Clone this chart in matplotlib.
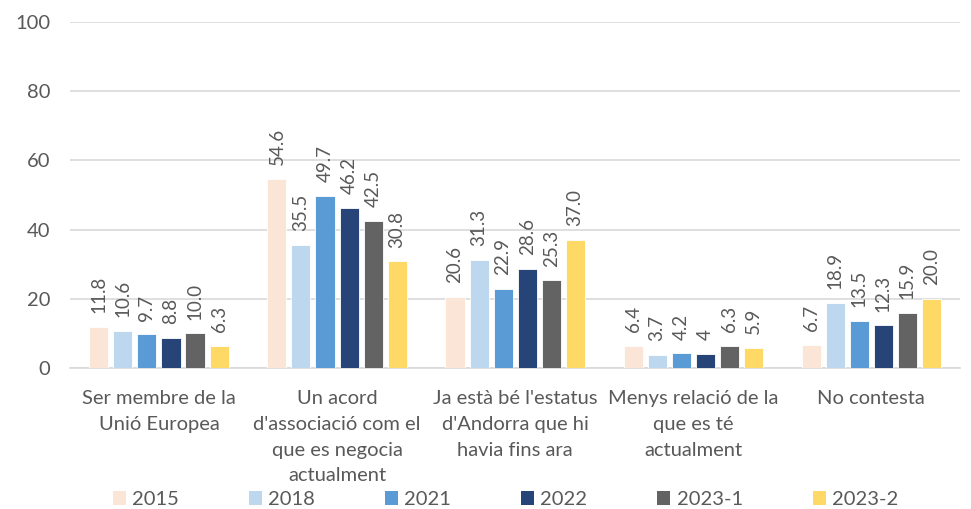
import matplotlib
matplotlib.use("Agg")
import matplotlib.pyplot as plt
import numpy as np
from matplotlib.patches import Patch

plt.rcParams['font.family'] = ['Lato', 'DejaVu Sans']

categories = [
    "Ser membre de la\nUnió Europea",
    "Un acord\nd'associació com el\nque es negocia\nactualment",
    "Ja està bé l'estatus\nd'Andorra que hi\nhavia fins ara",
    "Menys relació de la\nque es té\nactualment",
    "No contesta",
]
series_names = ["2015", "2018", "2021", "2022", "2023-1", "2023-2"]
v2015 = [11.8, 54.6, 20.6, 6.4, 6.7]
v2018 = [10.6, 35.5, 31.3, 3.7, 18.9]
v2021 = [9.7, 49.7, 22.9, 4.2, 13.5]
v2022 = [8.8, 46.2, 28.6, 4.0, 12.3]
v2023_1 = [10.0, 42.5, 25.3, 6.3, 15.9]
v2023_2 = [6.3, 30.8, 37.0, 5.9, 20.0]
labels_2022 = ["8.8", "46.2", "28.6", "4", "12.3"]
y_ticks = [0, 20, 40, 60, 80, 100]

colors = ["#FBE5D6", "#BDD7EE", "#5B9BD5", "#264478", "#636363", "#FFD966"]
text_color = "#595959"

all_values = [v2015, v2018, v2021, v2022, v2023_1, v2023_2]

fig = plt.figure(figsize=(9.71, 5.09), dpi=100)
ax = fig.add_axes([0.072, 0.277, 0.917, 0.680])

x = np.arange(len(categories))
slot = 0.135
bar_w = 0.107
n = len(series_names)
for i, (vals, col) in enumerate(zip(all_values, colors)):
    pos = x + (i - (n - 1) / 2) * slot
    ax.bar(pos, vals, width=bar_w, color=col, edgecolor="white", linewidth=0.6, zorder=3)
    for j, (p, v) in enumerate(zip(pos, vals)):
        txt = labels_2022[j] if i == 3 else f"{v:.1f}"
        ax.annotate(txt, (p, v), xytext=(0, 10), textcoords="offset points",
                    rotation=90, ha="center", va="bottom", fontsize=13.5,
                    color=text_color, zorder=4)

ax.set_xlim(-0.5, len(categories) - 0.5)
ax.set_ylim(0, 100)
ax.set_yticks(y_ticks)
ax.set_yticklabels([str(t) for t in y_ticks], fontsize=14.5, color=text_color)
ax.set_xticks(x)
ax.set_xticklabels(categories, fontsize=14.5, color=text_color, linespacing=1.62)
ax.tick_params(axis="both", length=0)
ax.tick_params(axis="x", pad=16)
ax.tick_params(axis="y", pad=14)
ax.grid(axis="y", color="#D9D9D9", linewidth=1.2, zorder=0)
for s in ["top", "right", "left"]:
    ax.spines[s].set_visible(False)
ax.spines["bottom"].set_color("#D9D9D9")
ax.spines["bottom"].set_linewidth(1.2)

handles = [Patch(facecolor=c, edgecolor="none") for c in colors]
fig.legend(handles, series_names, loc="center", bbox_to_anchor=(0.5206, 0.018),
           ncol=6, frameon=False, fontsize=14.5, handlelength=0.65, handleheight=0.7,
           handletextpad=0.3, columnspacing=3.48, labelcolor=text_color,
           borderpad=0, borderaxespad=0)

fig.savefig("out.png", dpi=100)
